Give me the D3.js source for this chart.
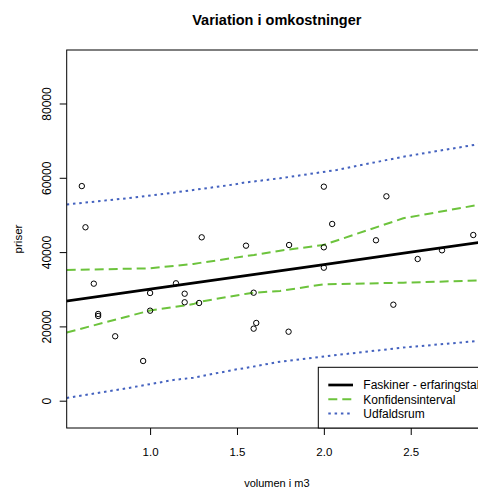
<!DOCTYPE html>
<html lang="en">
    <head>
        <meta charset="utf-8">
        <title>Variation i omkostninger</title>
        <script src="https://d3js.org/d3.v7.min.js"></script>
        <style>
            body { margin: 0; background: #fff; }
            text { font-family: "Liberation Sans", Arial, sans-serif; fill: #000; }
        </style>
    </head>
    <body>
        <script type="text/javascript">
        'use strict';

        // observations (volumen, pris)
        var volumen = [0.607, 0.628, 0.676, 0.701, 0.701, 0.799, 0.960, 1.0, 1.0, 1.149,
            1.199, 1.199, 1.282, 1.297, 1.552, 1.596, 1.596, 1.611, 1.797, 1.80,
            2.0, 2.0, 2.0, 2.048, 2.30, 2.36, 2.40, 2.54, 2.68, 2.86];
        var priser = [57770, 46680, 31500, 23340, 22800, 17340, 10690, 28990, 24230, 31600,
            28800, 26490, 26300, 43980, 41730, 29070, 19390, 20920, 18570, 41910,
            57610, 41290, 35800, 47570, 43180, 55010, 25840, 38140, 40480, 44600];

        // fitted line
        var fitX = [0.5, 1.0, 1.5, 2.0, 2.5, 3.0];
        var fitY = [26700, 30020, 33340, 36650, 39970, 43290];

        // confidence interval
        var ciX = [0.52, 1.0, 1.249, 1.288, 1.556, 1.598, 1.748, 1.997, 2.457, 2.885];
        var ciUpper = [35180, 35640, 36800, 37100, 38950, 39200, 40380, 41910, 49100, 52680];
        var ciLower = [18360, 24280, 26000, 26650, 28800, 29070, 29530, 31330, 31760, 32350];

        // prediction interval
        var piX = [0.52, 0.866, 1.134, 1.249, 1.499, 1.537, 1.748, 2.074, 2.457, 2.887];
        var piUpper = [52810, 54480, 56000, 56720, 58300, 58680, 59870, 62100, 65680, 69020];
        var piLower = [730, 3340, 5570, 6200, 8450, 8700, 10500, 12300, 14300, 16070];

        var xTicks = [1.0, 1.5, 2.0, 2.5];
        var yTicks = [0, 20000, 40000, 60000, 80000];

        var legendLabels = ["Faskiner - erfaringstal", "Konfidensinterval", "Udfaldsrum"];

        var w = 478;
        var h = 489;
        var pLeft = 66.7, pRight = 487, pTop = 50, pBottom = 428;

        var xScale = d3.scaleLinear()
            .domain([0.52, 1 + (pRight - 150) / 173.8])
            .range([pLeft, pRight]);
        var yScale = d3.scaleLinear()
            .domain([-7350, 94400])
            .range([pBottom, pTop]);

        var svg = d3.select("body")
                    .append("svg")
                    .attr("width", w)
                    .attr("height", h);

        svg.append("clipPath")
            .attr("id", "plotclip")
            .append("rect")
            .attr("x", pLeft)
            .attr("y", pTop)
            .attr("width", pRight - pLeft)
            .attr("height", pBottom - pTop);

        var line = d3.line()
            .x(function(d){ return xScale(d[0]); })
            .y(function(d){ return yScale(d[1]); });

        var plot = svg.append("g").attr("clip-path", "url(#plotclip)");

        // prediction interval (dotted blue)
        [piUpper, piLower].forEach(function(arr){
            plot.append("path")
                .datum(d3.zip(piX, arr))
                .attr("d", line)
                .attr("fill", "none")
                .attr("stroke", "#4462bf")
                .attr("stroke-width", 2)
                .attr("stroke-dasharray", "2.5,3.8");
        });

        // confidence interval (dashed green)
        [ciUpper, ciLower].forEach(function(arr){
            plot.append("path")
                .datum(d3.zip(ciX, arr))
                .attr("d", line)
                .attr("fill", "none")
                .attr("stroke", "#6cc33c")
                .attr("stroke-width", 2)
                .attr("stroke-dasharray", "9,5");
        });

        // fitted line
        plot.append("path")
            .datum(d3.zip(fitX, fitY))
            .attr("d", line)
            .attr("fill", "none")
            .attr("stroke", "#000")
            .attr("stroke-width", 2.7);

        // points
        plot.selectAll("circle")
            .data(d3.zip(volumen, priser))
            .enter()
            .append("circle")
            .attr("cx", function(d){ return xScale(d[0]); })
            .attr("cy", function(d){ return yScale(d[1]); })
            .attr("r", 2.7)
            .attr("fill", "none")
            .attr("stroke", "#000")
            .attr("stroke-width", 1);

        // box
        svg.append("rect")
            .attr("x", pLeft)
            .attr("y", pTop)
            .attr("width", pRight - pLeft)
            .attr("height", pBottom - pTop)
            .attr("fill", "none")
            .attr("stroke", "#000")
            .attr("stroke-width", 1);

        // axes
        var xAxis = svg.append("g")
            .attr("transform", "translate(0," + pBottom + ")")
            .call(d3.axisBottom(xScale)
                .tickValues(xTicks)
                .tickFormat(d3.format(".1f"))
                .tickSize(7)
                .tickPadding(13));
        xAxis.select(".domain").remove();
        xAxis.selectAll("text").attr("font-size", "11.5px");

        var yAxis = svg.append("g")
            .attr("transform", "translate(" + pLeft + ",0)")
            .call(d3.axisLeft(yScale)
                .tickValues(yTicks)
                .tickFormat(d3.format("d"))
                .tickSize(7));
        yAxis.select(".domain").remove();
        yAxis.selectAll("text")
            .attr("x", null)
            .attr("dy", null)
            .attr("font-size", "12px")
            .attr("text-anchor", "middle")
            .attr("transform", "translate(-16,0) rotate(-90)");
        svg.selectAll("g").attr("font-family", null);

        // titles
        var cx = (pLeft + pRight) / 2;
        svg.append("text")
            .text("Variation i omkostninger")
            .attr("x", cx)
            .attr("y", 25)
            .attr("text-anchor", "middle")
            .attr("font-weight", "bold")
            .attr("font-size", "14.5px");
        svg.append("text")
            .text("volumen i m3")
            .attr("x", cx)
            .attr("y", 487)
            .attr("text-anchor", "middle")
            .attr("font-size", "11px");
        svg.append("text")
            .text("priser")
            .attr("transform", "translate(21.5," + (pTop + pBottom) / 2 + ") rotate(-90)")
            .attr("text-anchor", "middle")
            .attr("font-size", "11.5px");

        // legend
        var lg = svg.append("g");
        lg.append("rect")
            .attr("x", 318.3)
            .attr("y", 367.3)
            .attr("width", pRight - 318.3)
            .attr("height", pBottom - 367.3)
            .attr("fill", "#fff")
            .attr("stroke", "#000");
        var legendStyles = [
            {stroke: "#000", width: 2.7, dash: null},
            {stroke: "#6cc33c", width: 2, dash: "9,5"},
            {stroke: "#4462bf", width: 2, dash: "2.5,3.8"}
        ];
        legendLabels.forEach(function(label, i){
            var yy = 385 + i * 14.3;
            var s = legendStyles[i];
            lg.append("line")
                .attr("x1", 328.3).attr("x2", 353)
                .attr("y1", yy).attr("y2", yy)
                .attr("stroke", s.stroke)
                .attr("stroke-width", s.width)
                .attr("stroke-dasharray", s.dash);
            lg.append("text")
                .text(label)
                .attr("x", 363.3)
                .attr("y", yy + 4.3)
                .attr("font-size", "12px");
        });
        </script>
    </body>
</html>
